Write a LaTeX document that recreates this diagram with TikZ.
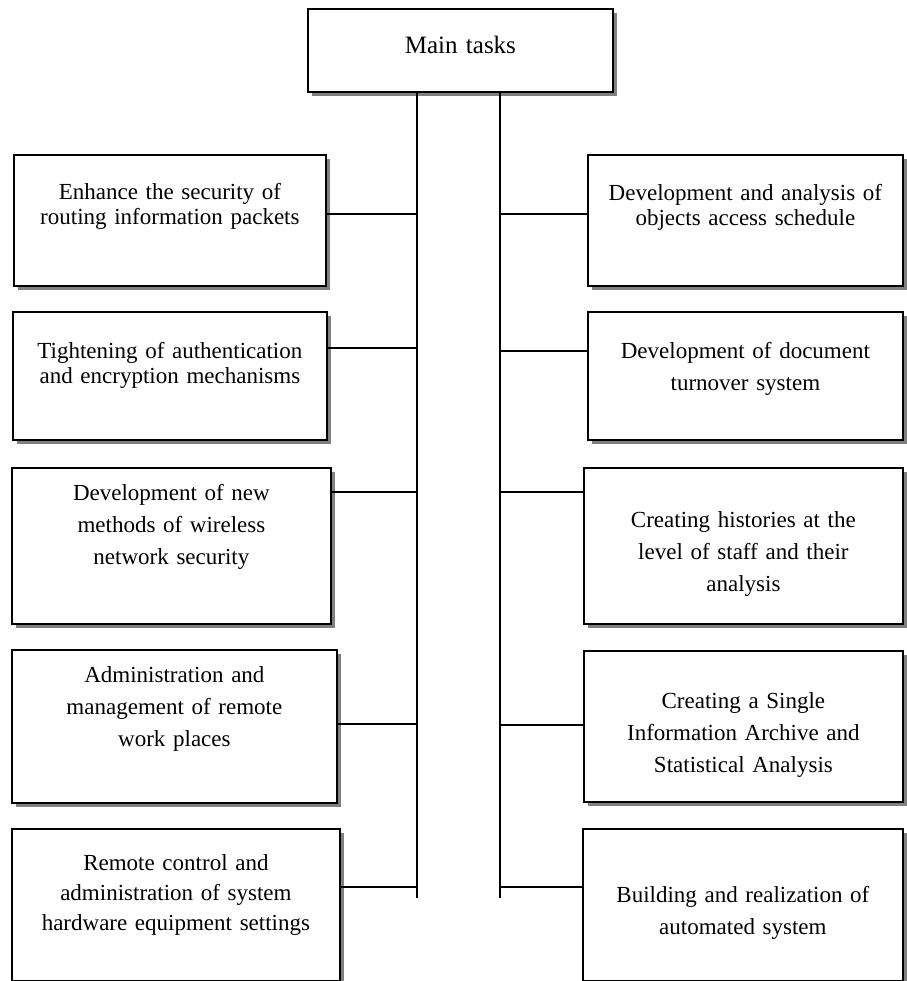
\documentclass[tikz,border=0pt]{standalone}
\usepackage{fontspec}
\setmainfont{Liberation Serif}
\usetikzlibrary{shadows}
\begin{document}
\begin{tikzpicture}[x=0.5pt, y=-0.5pt,
	taskbox/.style={draw, line width=0.9pt, fill=white, anchor=north west, inner sep=0pt, align=center,
		font=\fontsize{11.5}{16}\selectfont,
		drop shadow={shadow xshift=1.8pt, shadow yshift=-1.8pt, fill=black!50, opacity=1}},
	tight/.style={font=\fontsize{11.5}{12.5}\selectfont},
	link/.style={line width=0.7pt}]
	\useasboundingbox (0,0) rectangle (906,981);
	\node [taskbox, text width=152.5pt, text height=22.5pt, text depth=19pt, font=\fontsize{12.5}{15}\selectfont] (main) at (307,8) {Main tasks};

	\node [taskbox, tight, text width=156pt, text height=22.5pt, text depth=43pt] (l1) at (13,154) {Enhance the security of\\routing information packets};
	\node [taskbox, tight, text width=157pt, text height=23.5pt, text depth=40.5pt] (l2) at (12,311) {Tightening of authentication\\and encryption mechanisms};
	\node [taskbox, text width=159.5pt, text height=16.5pt, text depth=61.5pt] (l3) at (11,467) {Development of new\\methods of wireless\\network security};
	\node [taskbox, text width=162.5pt, text height=16.5pt, text depth=60pt] (l4) at (11,649) {Administration and\\management of remote\\work places};
	\node [taskbox, text width=164pt, text height=21pt, text depth=55pt, font=\fontsize{11.5}{15}\selectfont] (l5) at (11,828) {Remote control and\\administration of system\\hardware equipment settings};

	\node [taskbox, tight, text width=157.5pt, text height=23pt, text depth=42.5pt] (r1) at (587,154) {Development and analysis of\\objects access schedule};
	\node [taskbox, text width=157.5pt, text height=23.5pt, text depth=40.5pt] (r2) at (587,311) {Development of document\\turnover system};
	\node [taskbox, text width=159.5pt, text height=30pt, text depth=48pt] (r3) at (583,467) {Creating histories at the\\level of staff and their\\analysis};
	\node [taskbox, text width=159.5pt, text height=29pt, text depth=46.5pt] (r4) at (583,650) {Creating a Single\\Information Archive and\\Statistical Analysis};
	\node [taskbox, text width=160pt, text height=37pt, text depth=39pt] (r5) at (582,828) {Building and realization of\\automated system};

	\coordinate (lend) at (417,898);
	\coordinate (rend) at (500,898);
	\draw [link] (main.south -| lend) -- (lend);
	\draw [link] (main.south -| rend) -- (rend);
	\foreach \n/\y in {l1/214, l2/348, l3/492, l4/724, l5/887} {
		\coordinate (j\n) at (lend |- 0,\y);
		\draw [link] (j\n -| \n.east) -- (j\n);
	}
	\foreach \n/\y in {r1/214, r2/351, r3/492, r4/725, r5/887} {
		\coordinate (j\n) at (rend |- 0,\y);
		\draw [link] (j\n) -- (j\n -| \n.west);
	}
\end{tikzpicture}
\end{document}
